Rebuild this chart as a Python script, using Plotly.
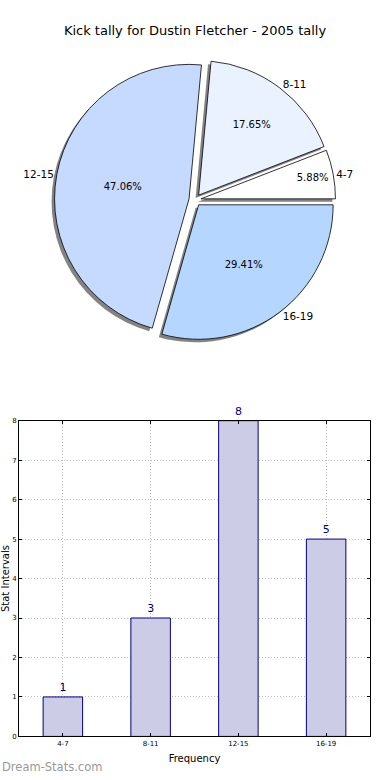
import plotly.graph_objects as go

# ---- data ----
categories = ["4-7", "8-11", "12-15", "16-19"]
counts = [1, 3, 8, 5]
pie_colors = ["#ffffff", "#eaf2ff", "#c6d9ff", "#b4d6ff"]
title_text = "Kick tally for Dustin Fletcher - 2005 tally"
y_ticks = [0, 1, 2, 3, 4, 5, 6, 7, 8]

W, H = 390, 780
FONT = "DejaVu Sans"

# first slice starts at 3 o'clock and runs counterclockwise
start_rot = 90 - 360 * counts[0] / sum(counts)

# pie geometry (pixels -> paper)
cx, cy, half = 195, 198, 142
pull = [0.045] * len(categories)

def dom(dx=0, dy=0):
    return dict(x=[(cx - half + dx) / W, (cx + half + dx) / W],
                y=[1 - (cy + half + dy) / H, 1 - (cy - half + dy) / H])

fig = go.Figure()

# shadow
fig.add_trace(go.Pie(
    labels=categories, values=counts, sort=False, direction="counterclockwise",
    rotation=start_rot, pull=pull, domain=dom(-3, 3),
    marker=dict(colors=["rgba(90,90,90,0.75)"] * len(categories), line=dict(width=0)),
    textinfo="none", hoverinfo="skip", showlegend=False))

# main pie with percentages
fig.add_trace(go.Pie(
    labels=categories, values=counts, sort=False, direction="counterclockwise",
    rotation=start_rot, pull=pull, domain=dom(),
    marker=dict(colors=pie_colors, line=dict(color="black", width=0.8)),
    texttemplate="%{percent:.2%}", textposition="inside", insidetextorientation="horizontal",
    textfont=dict(family=FONT, size=10, color="black"), showlegend=False))

# outside labels
fig.add_trace(go.Pie(
    labels=categories, values=counts, sort=False, direction="counterclockwise",
    rotation=start_rot, pull=pull, domain=dom(),
    marker=dict(colors=["rgba(0,0,0,0)"] * len(categories), line=dict(width=0)),
    texttemplate="%{label}", textposition="outside",
    outsidetextfont=dict(family=FONT, size=10.5, color="black"),
    hoverinfo="skip", showlegend=False))

# bar chart
fig.add_trace(go.Bar(
    x=categories, y=counts, width=0.45,
    marker=dict(color="#ccccE6", line=dict(color="#000080", width=1)),
    text=[str(v) for v in counts], textposition="outside",
    textfont=dict(family=FONT, size=11, color="#000080"), cliponaxis=False,
    showlegend=False))

fig.update_layout(
    width=W, height=H, margin=dict(l=0, r=0, t=0, b=0),
    paper_bgcolor="white", plot_bgcolor="white",
    font=dict(family=FONT, color="black"),
    title=dict(text=title_text, x=0.5, xanchor="center", y=1 - 30 / H, yanchor="middle",
               font=dict(family=FONT, size=13, color="black")),
    xaxis=dict(domain=[19 / W, 370 / W], range=[-0.5, 3.5], showline=True, linecolor="black",
               mirror="allticks", ticks="inside", ticklen=3, tickcolor="black",
               showgrid=True, gridcolor="#bdbdbd", griddash="1px,2px", gridwidth=1,
               tickfont=dict(family=FONT, size=7), fixedrange=True,
               title=dict(text="Frequency", font=dict(family=FONT, size=10), standoff=8)),
    yaxis=dict(domain=[1 - 740 / H, 1 - 421 / H], range=[0, 8], tickvals=y_ticks,
               showline=True, linecolor="black", mirror="allticks", ticks="inside",
               ticklen=3, tickcolor="black", showgrid=True, gridcolor="#bdbdbd",
               griddash="1px,2px", gridwidth=1, zeroline=False,
               tickfont=dict(family=FONT, size=7), fixedrange=True,
               title=dict(text="Stat Intervals", font=dict(family=FONT, size=10), standoff=2)),
    annotations=[dict(text="Dream-Stats.com", xref="paper", yref="paper", x=0, y=0,
                      xanchor="left", yanchor="bottom", showarrow=False,
                      font=dict(family=FONT, size=11.5, color="#999999"))],
)

fig.write_html("out.html", config={"displayModeBar": False},
               post_script="document.body.style.margin='0';document.body.style.padding='0';")
